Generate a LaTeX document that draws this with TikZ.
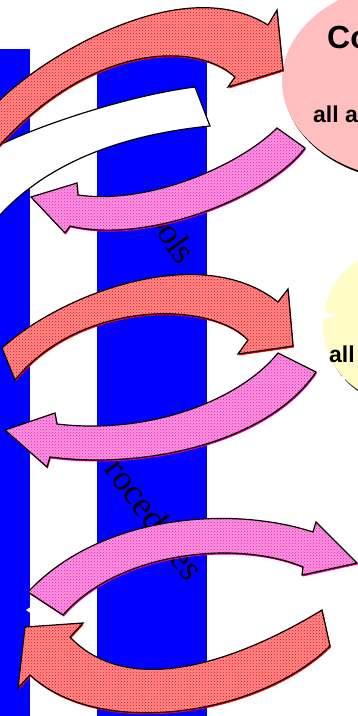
\documentclass[tikz,border=0pt]{standalone}
\usepackage{fontspec}
\setmainfont{Liberation Serif}
\setsansfont{Liberation Sans}
\usetikzlibrary{patterns,decorations.text}
\tikzset{
  bar/.style={fill=blue},
  redarr/.style={draw=black, line width=1.2pt, line join=miter,
    preaction={fill=red, transform canvas={shift={(0.8pt,-1.5pt)}}},
    preaction={fill=red!45!white},
    pattern=crosshatch dots, pattern color=red},
  pinkarr/.style={draw=black, line width=1.2pt, line join=miter,
    preaction={fill=magenta, transform canvas={shift={(0.8pt,-1.5pt)}}},
    preaction={fill=magenta!40!white},
    pattern=crosshatch dots, pattern color=magenta},
  whitearr/.style={draw=black, line width=1.2pt, fill=white, line join=miter},
  serifword/.style={font=\fontsize{36}{40}\selectfont, inner sep=0pt},
  sanslabel/.style={font=\sffamily\bfseries\fontsize{23}{26}\selectfont, inner sep=0pt, anchor=base west},
}
\begin{document}
\begin{tikzpicture}[x=1pt,y=-1pt]
\useasboundingbox (0,0) rectangle (358,716);
\clip (0,0) rectangle (358,716);
% blue bars
\fill[bar] (0,49) rectangle (30,716);
\fill[bar] (97,49) rectangle (207,716);
% rotated words
\path[decorate, decoration={text along path, text align=center,
  text={|\fontsize{36}{40}\selectfont|Tools}}]
  (139,186) .. controls (149,218) and (162,252) .. (187,272);
\node[serifword, rotate=-53.6, anchor=base] (proc) at (139,518) {Procedures};
% pink ellipse with shadow
\fill[black] (413.5,83.5) ellipse [x radius=130pt, y radius=98pt];
\fill[pink] (412,81) ellipse [x radius=130pt, y radius=98pt];
\node[sanslabel, font=\sffamily\bfseries\fontsize{32}{36}\selectfont] (co) at (327,48) {Co};
\node[sanslabel] (alla) at (313,122) {all a};
% yellow blob with shadow
\fill[black!80] (402,328) circle [radius=77pt];
\fill[yellow!22] (400,325) circle [radius=77pt];
\fill[white] (321,311) -- (337,315) -- (321,320) -- cycle;
\fill[white] (336,374) -- (347,378) -- (338,384) -- cycle;
\node[sanslabel] (all) at (329,362) {all};
% white arrow body
\path[whitearr] (195,87) -- (210,126) .. controls (150,132) and (60,150) .. (0,215)
  -- (-20,240) -- (-20,150) -- (0,145) .. controls (40,125) and (130,95) .. (195,87) -- cycle;
% red arrow 1
\path[redarr] (-20,120) -- (0,100) .. controls (40,60) and (180,-30) .. (268,25)
  -- (277,10) -- (283,70) -- (228,87) -- (235,77)
  .. controls (195,40) and (90,45) .. (0,145) -- (-20,167) -- cycle;
% pink arrow 1
\path[pinkarr] (277,128) .. controls (240,165) and (150,205) .. (78,195)
  -- (77,183) -- (31,197) -- (65,233) -- (70,226)
  .. controls (150,245) and (270,195) .. (305,148) -- cycle;
% red arrow 2
\path[redarr] (2,348) .. controls (60,295) and (200,240) .. (278,302)
  -- (288,289) -- (293,346) -- (238,354) -- (248,340)
  .. controls (210,300) and (80,300) .. (15,380) -- cycle;
% pink arrow 2
\path[pinkarr] (278,353) .. controls (240,400) and (150,435) .. (57,424)
  -- (55,413) -- (5,430) -- (47,467) -- (50,457)
  .. controls (150,470) and (270,440) .. (316,372) -- cycle;
% small white mark
\fill[white] (26,610) -- (32,606) -- (32,614) -- cycle;
% pink arrow 3
\path[pinkarr] (28,592) .. controls (100,515) and (230,505) .. (313,532)
  -- (316,522) -- (357,563) -- (302,575) -- (303,567)
  .. controls (240,540) and (120,550) .. (63,615) -- cycle;
% red arrow 3
\path[redarr] (322,610) .. controls (240,660) and (130,700) .. (70,637)
  -- (83,623) -- (25,627) -- (18,688) -- (30,675)
  .. controls (100,740) and (260,715) .. (330,646) -- cycle;
\end{tikzpicture}
\end{document}
